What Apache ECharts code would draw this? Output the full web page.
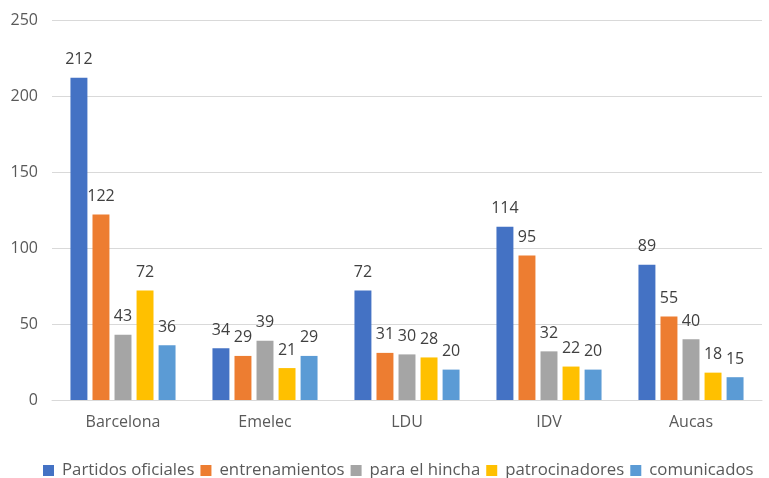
<!DOCTYPE html>
<html><head><meta charset="utf-8">
<script src="https://cdn.jsdelivr.net/npm/echarts@6/dist/echarts.min.js"></script>
<style>html,body{margin:0;padding:0;background:#fff}#c{width:769px;height:478px}</style>
</head><body><div id="c"></div>
<script>
const categories = ['Barcelona','Emelec','LDU','IDV','Aucas'];
const seriesNames = ['Partidos oficiales','entrenamientos','para el hincha','patrocinadores','comunicados'];
const partidos = [212,34,72,114,89];
const entrenamientos = [122,29,31,95,55];
const hincha = [43,39,30,32,40];
const patrocinadores = [72,21,28,22,18];
const comunicados = [36,29,20,20,15];
const colors = ['#4472C4','#ED7D31','#A5A5A5','#FFC000','#5B9BD5'];
const values = [partidos, entrenamientos, hincha, patrocinadores, comunicados];
const font = 'Open Sans';
const chart = echarts.init(document.getElementById('c'));
chart.setOption({
  animation:false,
  color: colors,
  textStyle:{fontFamily:font},
  grid:{left:52,right:7,top:20,bottom:78},
  legend:{top:462,left:43,width:726,padding:0,itemWidth:11,itemHeight:11,itemGap:6,icon:'rect',
    textStyle:{fontFamily:font,fontSize:16.8,color:'#595959',padding:[0,0,0,3]}},
  xAxis:{type:'category',data:categories,
    axisLine:{lineStyle:{color:'#D9D9D9'}},axisTick:{show:false},
    axisLabel:{fontFamily:font,fontSize:16,color:'#595959',margin:14}},
  yAxis:{type:'value',min:0,max:250,interval:50,
    axisLine:{show:false},axisTick:{show:false},
    splitLine:{lineStyle:{color:'#D9D9D9'}},
    axisLabel:{fontFamily:font,fontSize:16,color:'#595959',margin:14}},
  series: values.map((v,i)=>({
    name: seriesNames[i], type:'bar', data:v,
    barGap:'30%', barCategoryGap:'26%',
    label:{show:true,position:'top',distance:10,fontFamily:font,fontSize:16,color:'#404040'}
  }))
});
</script></body></html>
